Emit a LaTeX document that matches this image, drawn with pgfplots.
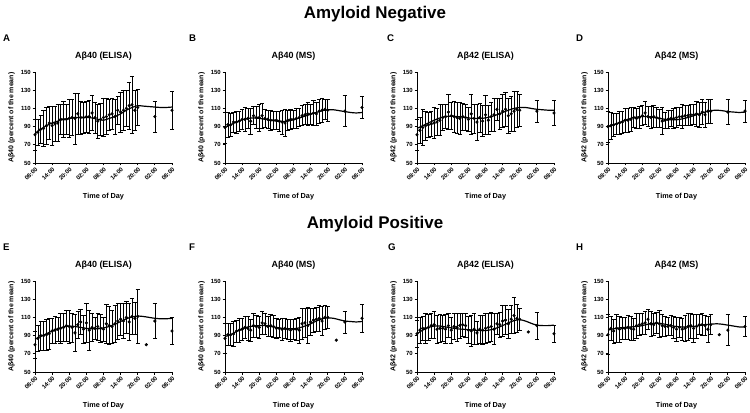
\documentclass[border=0pt]{standalone}
\usepackage{fontspec}
\setmainfont{Liberation Sans}
\usepackage{pgfplots}
\usepackage{pgfplotstable}
\pgfplotsset{compat=1.18}

\pgfplotsset{prism/.style={
  scale only axis, width=137bp, height=91bp,
  xmin=0, xmax=48, ymin=50, ymax=150,
  axis x line*=bottom, axis y line*=left,
  axis line style={line width=0.9pt, black},
  every tick/.style={line width=0.9pt, black},
  tick align=outside, major tick length=2.5bp,
  xtick={0,6,...,48},
  xticklabels={08:00,14:00,20:00,02:00,08:00,14:00,20:00,02:00,08:00},
  ytick={50,70,...,150},
  /pgf/number format/assume math mode=true,
  tick label style={font=\bfseries\fontsize{6}{6}\selectfont},
  x tick label style={rotate=45, anchor=north east, inner sep=1pt},
  y tick label style={inner sep=1.5pt},
  xlabel={Time of Day},
  xlabel style={font=\bfseries\fontsize{7.3}{8}\selectfont, yshift=-7bp},
  ylabel style={font=\bfseries\fontsize{7}{8}\selectfont, yshift=1bp},
  title style={font=\bfseries\fontsize{9}{10}\selectfont, yshift=2.5bp},
  clip=false,
}}

% ---------- data (hour, mean, sem) ----------
\pgfplotstableread{
h m e
0 81 17
1 84 14
2 87 15
3 88 20
4 91 20
5 94 18
6 91 21
7 93 19
8 94 20
9 98 16
10 98 20
11 98 17
12 99 21
13 100 20
14 99 28
15 104 23
16 100 18
17 100 17
18 101 17
19 101 18
20 105 19
21 100 17
22 96 19
23 98 18
24 100 21
25 101 20
26 103 17
27 104 17
28 101 19
29 108 15
30 106 22
31 108 22
32 110 20
33 113 26
34 114 31
35 108 22
36 111 20
42 101 17
48 108 21
}\dA
\pgfplotstableread{
h c
0 82
2 87
4 91
6 94
8 96
10 98
12 99
14 100
16 100
18 100
20 99.5
22 98
24 97
26 99
28 101
30 104
32 108
34 111
36 113
38 112.5
40 112
42 111.5
44 111
46 111
48 111.5
}\cA

\pgfplotstableread{
h m e
0 89 17
1 92 14
2 92 13
3 95 11
4 95 12
5 96 11
6 98 11
7 98 13
8 99 11
9 96 14
10 102 10
11 100 12
12 100 15
13 102 14
14 99 10
15 98 10
16 97 11
17 97 10
18 97 10
19 96 11
20 95 13
21 94 15
22 97 11
23 98 11
24 98 10
25 99 11
26 100 10
27 102 11
28 103 11
29 104 13
30 104 11
31 105 14
32 104 13
33 107 13
34 108 13
35 109 11
36 108 12
42 107 17
48 111 12
}\dB
\pgfplotstableread{
h c
0 89
2 92
4 95
6 97.5
8 99
10 99.5
12 99
14 98
16 97
18 96
20 95.5
22 96
24 97.5
26 99.5
28 101.5
30 103.5
32 105.5
34 107.5
36 108.5
38 108.5
40 107.5
42 106.5
44 105.5
46 105
48 105.5
}\cB

\pgfplotstableread{
h m e
0 81 17
1 86 14
2 89 20
3 91 16
4 92 14
5 93 14
6 94 17
7 95 15
8 97 17
9 100 14
10 101 13
11 106 19
12 102 15
13 101 17
14 100 17
15 99 18
16 101 15
17 100 14
18 98 13
19 104 22
20 99 16
21 95 20
22 100 16
23 96 17
24 103 21
25 97 16
26 101 16
27 103 18
28 109 12
29 104 17
30 107 18
31 109 19
32 102 19
33 104 19
34 107 22
35 109 20
36 108 18
42 107 12
48 105 14
}\dC
\pgfplotstableread{
h c
0 88
2 91
4 94
6 97
8 99.5
10 101
12 101.5
14 101
16 100.5
18 99.5
20 99
22 99
24 99.5
26 101
28 103
30 105.5
32 108
34 110
36 111
38 111
40 110
42 109
44 108.5
46 108
48 108
}\cC

\pgfplotstableread{
h m e
0 90 17
1 91 15
2 92 13
3 93 12
4 94 13
5 95 12
6 97 13
7 97 13
8 98 13
9 100 11
10 99 11
11 100 12
12 102 11
13 105 13
14 101 11
15 100 12
16 101 12
17 100 11
18 99 10
19 96 15
20 97 9
21 98 10
22 99 9
23 99 11
24 100 11
25 101 10
26 101 13
27 102 11
28 102 11
29 103 12
30 103 11
31 104 14
32 103 14
33 106 14
34 103 14
35 107 13
36 107 13
42 106 14
48 107 12
}\dD
\pgfplotstableread{
h c
0 90
2 92
4 94.5
6 97
8 99
10 100.5
12 101
14 101
16 100
18 99
20 98
22 97.5
24 97.5
26 98.5
28 100
30 102
32 104
34 106
36 107.5
38 108
40 107.5
42 106.5
44 106
46 105.5
48 106
}\cD

\pgfplotstableread{
h m e
0 80 15
1 87 14
2 90 16
3 90 16
4 91 17
5 92 17
6 95 14
7 96 15
8 97 13
9 98 16
10 99 15
11 101 17
12 100 18
13 99 16
14 93 20
15 102 15
16 105 14
17 97 15
18 104 21
19 96 22
20 99 15
21 98 12
22 100 15
23 98 15
24 97 13
25 103 21
26 101 21
27 100 18
28 103 20
29 106 20
30 108 18
31 106 19
32 110 18
33 105 20
34 111 20
35 109 18
36 111 30
42 106 19
48 95 15
}\dE
\pgfplotstableread{
h c
0 86
2 89
4 92
6 95
8 97.5
10 99.5
12 100.5
14 100
16 99
18 98
20 97.5
22 97.5
24 98.5
26 100
28 102.5
30 105.5
32 108.5
34 110.5
36 111.5
38 111
40 110
42 109
44 108.5
46 108.5
48 109
}\cE

\pgfplotstableread{
h m e
0 87 16
1 91 12
2 91 12
3 92 14
4 95 12
5 96 13
6 97 12
7 99 12
8 98 13
9 96 12
10 101 13
11 100 12
12 99 12
13 104 13
14 103 12
15 100 11
16 101 12
17 100 12
18 98 11
19 98 10
20 97 12
21 98 11
22 97 11
23 96 12
24 97 11
25 97 12
26 96 14
27 103 17
28 104 16
29 101 20
30 105 15
31 107 13
32 108 13
33 109 14
34 106 16
35 110 13
36 110 12
42 105 12
48 109 15
}\dF
\pgfplotstableread{
h c
0 89
2 91
4 94.5
6 97.5
8 99.5
10 100.5
12 101
14 101
16 100
18 99
20 98
22 97.5
24 97.5
26 98.5
28 100.5
30 103
32 106
34 108.5
36 109.5
38 109
40 107.5
42 106
44 105.5
46 105
48 105.5
}\cF

\pgfplotstableread{
h m e
0 92 15
1 96 14
2 98 13
3 98 16
4 99 14
5 101 14
6 102 15
7 97 15
8 98 15
9 98 14
10 97 16
11 101 13
12 96 14
13 100 14
14 99 15
15 101 14
16 102 13
17 101 13
18 96 15
19 95 17
20 97 17
21 93 13
22 97 15
23 96 16
24 98 16
25 99 16
26 100 16
27 97 17
28 103 12
29 102 14
30 106 17
31 107 16
32 103 16
33 108 15
34 112 20
35 109 15
36 108 12
42 101 15
48 92 9
}\dG
\pgfplotstableread{
h c
0 92
2 96
4 99
6 100.5
8 100.5
10 99.5
12 98.5
14 97.5
16 97
18 96.5
20 96
22 95.5
24 95.5
26 96.5
28 98.5
30 101
32 104
34 106.5
36 107.5
38 106
40 103.5
42 101.5
44 101
46 101
48 101.5
}\cG

\pgfplotstableread{
h m e
0 91 22
1 98 13
2 95 13
3 98 15
4 97 14
5 98 12
6 98 12
7 99 13
8 98 13
9 97 12
10 101 14
11 102 12
12 103 12
13 104 13
14 108 11
15 103 14
16 102 12
17 104 12
18 103 15
19 101 12
20 100 11
21 100 10
22 101 11
23 99 12
24 97 13
25 99 11
26 97 12
27 98 14
28 100 15
29 101 14
30 98 15
31 100 13
32 102 11
33 102 12
34 101 11
35 97 14
36 102 11
42 96 17
48 100 11
}\dH
\pgfplotstableread{
h c
0 96
2 97.5
4 98.5
6 99
8 99.5
10 100
12 101
14 102.5
16 103.5
18 103.5
20 102.5
22 101
24 100
26 99.5
28 99.5
30 100
32 101
34 102
36 102.5
38 103
40 102.5
42 101.5
44 100.5
46 99.5
48 99.5
}\cH

% #1 x, #2 y, #3 title, #4 ylabel, #5 data, #6 curve, #7 extra
\newcommand\panel[7]{%
\begin{axis}[prism, at={(#1,#2)}, anchor=south west, title={#3}, ylabel={#4}]
\addplot[black, only marks, mark=*, mark size=1.4bp,
  error bars/.cd, y dir=both, y explicit,
  error bar style={line width=0.6pt, black},
  error mark options={rotate=90, mark size=2.2bp, line width=0.6pt, black}]
  table[x=h, y=m, y error=e] {#5};
\addplot[black, line width=1.2pt, smooth, no marks] table[x=h, y=c] {#6};
#7
\end{axis}}

\begin{document}
\begin{tikzpicture}[x=1bp, y=1bp]
\useasboundingbox (0,0) rectangle (750,412);
\node[anchor=base, font=\bfseries\fontsize{17}{18}\selectfont] at (375,393) {Amyloid Negative};
\node[anchor=base, font=\bfseries\fontsize{17}{18}\selectfont] at (375,184) {Amyloid Positive};
\foreach \L/\x/\y in {A/3/371, B/189/371, C/387/371, D/576/371, E/3/162, F/189/162, G/388/162, H/576/162}
  \node[anchor=base west, inner sep=0pt, font=\bfseries\fontsize{9.7}{10}\selectfont] at (\x,\y) {\L};

\panel{35bp}{249bp}{Aβ40 (ELISA)}{Aβ40 (percent of the mean)}{\dA}{\cA}{}
\panel{225bp}{249bp}{Aβ40 (MS)}{Aβ40 (percent of the mean)}{\dB}{\cB}{}
\panel{417bp}{249bp}{Aβ42 (ELISA)}{Aβ42 (percent of the mean)}{\dC}{\cC}{}
\panel{608bp}{249bp}{Aβ42 (MS)}{Aβ42 (percent of the mean)}{\dD}{\cD}{}

\panel{35bp}{40bp}{Aβ40 (ELISA)}{Aβ40 (percent of the mean)}{\dE}{\cE}{\addplot[black, only marks, mark=*, mark size=1.4bp] coordinates {(39,80)};}
\panel{225bp}{40bp}{Aβ40 (MS)}{Aβ40 (percent of the mean)}{\dF}{\cF}{\addplot[black, only marks, mark=*, mark size=1.4bp] coordinates {(39,85)};}
\panel{417bp}{40bp}{Aβ42 (ELISA)}{Aβ42 (percent of the mean)}{\dG}{\cG}{\addplot[black, only marks, mark=*, mark size=1.4bp] coordinates {(39,94)};}
\panel{608bp}{40bp}{Aβ42 (MS)}{Aβ42 (percent of the mean)}{\dH}{\cH}{\addplot[black, only marks, mark=*, mark size=1.4bp] coordinates {(39,91)};}
\end{tikzpicture}
\end{document}
